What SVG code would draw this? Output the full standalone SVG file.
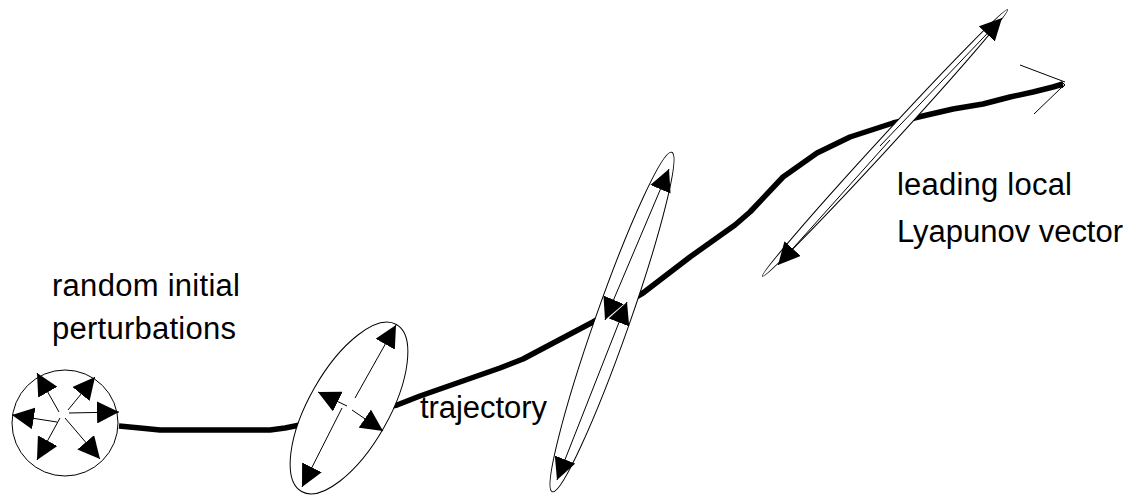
<svg xmlns="http://www.w3.org/2000/svg" width="1131" height="500" viewBox="0 0 1131 500">
<style>
.lbl{font-family:"Liberation Sans",Arial,sans-serif;font-size:31px;fill:#000}
.thin{stroke:#000;stroke-width:1;fill:none}
.arr{stroke:#000;stroke-width:1;fill:none;marker-end:url(#head)}
.arr2{stroke:#000;stroke-width:1;fill:none;marker-start:url(#head);marker-end:url(#head)}
.shape{fill:#fff;stroke:#000;stroke-width:1}
</style>
<defs>
<marker id="head" viewBox="0 0 20 20" refX="20" refY="10" markerWidth="22" markerHeight="22" markerUnits="userSpaceOnUse" orient="auto-start-reverse">
<path d="M0,0 L20,10 L0,20 z" fill="#000"/>
</marker>
</defs>
<rect width="1131" height="500" fill="#fff"/>
<g id="connectors">
<polyline id="trajectory-line" points="119,426 140,428 160,430 270,430 285,428 300,425 349,415 397,405 420,396 460,382 500,368 523,359 540,350 593,322 643,293 690,257 735,225 750,212 783,177 817,153 850,137 893,123 927,115 953,109 983,104 1010,97 1033,92 1053,87 1063,84" fill="none" stroke="#000" stroke-width="5.5" stroke-linejoin="round" stroke-linecap="butt"/>
<line class="thin" x1="1020" y1="65" x2="1065" y2="82"/>
<line class="thin" x1="1034" y1="114" x2="1061" y2="88"/>
<path class="thin" d="M1058,84 l4,-2 l3,3 l-3,3 l-3,-2 z" stroke="#777"/>
</g>
<g id="node-circle">
<circle class="shape" cx="65" cy="423" r="53"/>
<line class="arr" x1="69" y1="413" x2="119" y2="412"/>
<line class="arr" x1="59" y1="412" x2="37" y2="373"/>
<line class="arr" x1="68" y1="410" x2="95" y2="377"/>
<line class="arr" x1="57" y1="422" x2="12" y2="415"/>
<line class="arr" x1="60" y1="418" x2="37" y2="460"/>
<line class="arr" x1="65" y1="418" x2="100" y2="459"/>
</g>
<g id="node-ellipse2">
<ellipse class="shape" cx="349" cy="408" rx="96" ry="40" transform="rotate(-60.4 349 408)"/>
<line class="arr" x1="355" y1="398" x2="396" y2="325"/>
<line class="arr" x1="342" y1="408" x2="302" y2="487"/>
<line class="arr" x1="347" y1="406" x2="318" y2="392"/>
<line class="arr" x1="352" y1="410" x2="383" y2="431"/>
</g>
<g id="node-ellipse3">
<ellipse class="shape" cx="612" cy="322" rx="180" ry="17" transform="rotate(-70.6 612 322)"/>
<line class="arr2" x1="605" y1="320" x2="669" y2="169"/>
<line class="arr2" x1="627" y1="302" x2="557" y2="480"/>
</g>
<g id="node-ellipse4">
<ellipse class="shape" cx="885" cy="143" rx="181" ry="6" transform="rotate(-47.4 885 143)"/>
<line class="arr" x1="880" y1="146" x2="1002" y2="18"/>
<line class="arr" x1="890" y1="140" x2="778" y2="265"/>
</g>
<g id="labels">
<text class="lbl" x="52" y="296" textLength="188" lengthAdjust="spacing">random initial</text>
<text class="lbl" x="52" y="339" textLength="184" lengthAdjust="spacing">perturbations</text>
<text class="lbl" x="420" y="418" textLength="127" lengthAdjust="spacing">trajectory</text>
<text class="lbl" x="897" y="195" textLength="175" lengthAdjust="spacing">leading local</text>
<text class="lbl" x="897" y="242" textLength="226" lengthAdjust="spacing">Lyapunov vector</text>
</g>
</svg>
